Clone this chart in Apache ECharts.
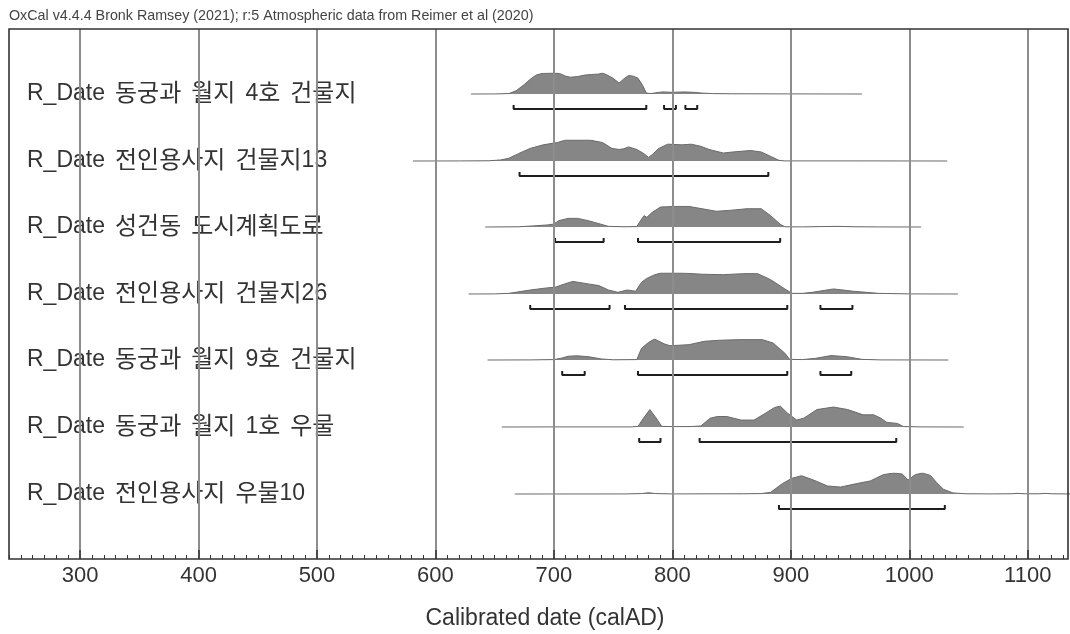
<!DOCTYPE html>
<html>
<head>
<meta charset="utf-8">
<script src="https://cdn.jsdelivr.net/npm/echarts@6/dist/echarts.min.js"></script>
<style>html,body{margin:0;padding:0;background:#fff}#c{width:1070px;height:634px}</style>
</head>
<body>
<div id="c"></div>
<script>
// ---------------- data ----------------
const headerText = 'OxCal v4.4.4 Bronk Ramsey (2021); r:5 Atmospheric data from Reimer et al (2020)';
const axisTitle = 'Calibrated date (calAD)';
const xMin = 200, xMax = 1200, xStep = 100;

const rowLabels = [
  'R_Date 동궁과 월지 4호 건물지',
  'R_Date 전인용사지 건물지13',
  'R_Date 성건동 도시계획도로',
  'R_Date 전인용사지 건물지26',
  'R_Date 동궁과 월지 9호 건물지',
  'R_Date 동궁과 월지 1호 우물',
  'R_Date 전인용사지 우물10'
];

// probability distributions: [calendar year, relative probability]
const dist1 = [[630,0],[650,0.003],[662,0.02],[668,0.15],[675,0.45],[680,0.7],[685,0.9],[690,0.98],[700,1],[705,0.97],[710,0.85],[714,0.8],[720,0.83],[726,0.9],[732,0.93],[738,0.95],[741,1],[745,0.9],[750,0.75],[755,0.52],[759,0.72],[763,0.88],[767,0.85],[771,0.75],[775,0.4],[778,0.05],[782,0.02],[786,0.06],[792,0.1],[800,0.08],[810,0.1],[818,0.08],[826,0.04],[834,0.02],[850,0.01],[900,0.005],[960,0]];
const dist2 = [[581,0],[620,0.003],[645,0.01],[655,0.05],[662,0.13],[670,0.35],[680,0.6],[691,0.77],[703,0.88],[710,1],[730,1],[741,0.88],[749,0.6],[755,0.55],[759,0.58],[763,0.67],[770,0.55],[776,0.35],[780,0.17],[784,0.35],[788,0.58],[796,0.8],[808,0.77],[816,0.8],[824,0.7],[831,0.55],[843,0.38],[851,0.43],[866,0.5],[875,0.43],[883,0.22],[890,0.03],[895,0.005],[960,0.005],[1032,0]];
const dist3 = [[642,0],[670,0.01],[682,0.05],[695,0.1],[700,0.14],[704,0.3],[712,0.41],[720,0.41],[729,0.3],[738,0.16],[746,0.03],[760,0.01],[770,0.02],[772,0.2],[776,0.54],[778.5,0.46],[783,0.7],[790,0.95],[802,0.98],[814,0.98],[825,0.87],[837,0.75],[848,0.79],[863,0.87],[875,0.87],[883,0.54],[891,0.13],[895,0.01],[910,0.005],[925,0.02],[940,0.03],[955,0.01],[975,0.003],[1010,0]];
const dist4 = [[628,0],[650,0.005],[662,0.03],[680,0.19],[694,0.29],[701,0.32],[709,0.48],[716,0.6],[729,0.48],[738,0.4],[746,0.19],[754,0.08],[762,0.19],[769,0.13],[774,0.56],[778,0.73],[784,0.89],[790,1],[808,1],[825,0.94],[843,0.92],[860,0.97],[872,0.97],[883,0.68],[895,0.24],[901,0.03],[910,0.03],[918,0.08],[936,0.24],[953,0.13],[974,0.03],[1000,0.005],[1041,0]];
const dist5 = [[644,0],[680,0.005],[700,0.02],[706,0.08],[712,0.18],[720,0.2],[730,0.15],[740,0.05],[750,0.01],[770,0.02],[774,0.56],[780,0.84],[785,1],[793,0.77],[798,0.68],[814,0.73],[827,0.89],[840,0.94],[856,0.97],[876,0.97],[885,0.81],[895,0.32],[899,0.03],[910,0.02],[921,0.08],[934,0.21],[947,0.16],[960,0.03],[976,0.005],[1033,0]];
const dist6 = [[656,0],[700,0.005],[766,0.005],[771,0.03],[776,0.45],[781,0.83],[786,0.45],[791,0.03],[800,0.02],[815,0.02],[824,0.05],[832,0.42],[838,0.5],[846,0.5],[858,0.33],[869,0.33],[879,0.67],[886,0.92],[891,1],[897,0.67],[905,0.33],[911,0.42],[922,0.83],[936,0.95],[948,0.83],[961,0.58],[970,0.58],[976,0.42],[981,0.22],[990,0.17],[995,0.02],[1010,0.005],[1046,0]];
const dist7 = [[667,0],[760,0.003],[774,0.02],[780,0.06],[786,0.02],[800,0.005],[860,0.01],[875,0.02],[883,0.08],[893,0.5],[901,0.75],[909,0.87],[919,0.67],[931,0.38],[942,0.33],[956,0.5],[967,0.62],[978,0.92],[987,1],[994,0.95],[999,0.67],[1005,0.92],[1011,1],[1018,0.88],[1023,0.55],[1029,0.22],[1037,0.05],[1048,0.01],[1070,0.005],[1086,0.01],[1091,0.03],[1098,0.01],[1110,0.01],[1115,0.03],[1120,0.01],[1140,0]];

// highest posterior density ranges (brackets)
const ranges1 = [[666,778],[793,803],[811,821]];
const ranges2 = [[671,881]];
const ranges3 = [[701,742],[771,891]];
const ranges4 = [[680,747],[760,897],[925,952]];
const ranges5 = [[707,726],[771,897],[925,951]];
const ranges6 = [[772,790],[823,989]];
const ranges7 = [[890,1030]];

const dists = [dist1, dist2, dist3, dist4, dist5, dist6, dist7];
const ranges = [ranges1, ranges2, ranges3, ranges4, ranges5, ranges6, ranges7];

// ---------------- layout / style ----------------
const FONT = '"Liberation Sans", Arial, "Noto Sans CJK KR", sans-serif';
const PLOT_LEFT = -38.4, PLOT_RIGHT = -76.2;   // extended so that 200..1200 maps onto the frame
const FRAME_TOP = 29, FRAME_BOTTOM = 75;
const baseY = [94, 161, 227, 294, 360, 427, 494];
const HALF = 21;
const BR_LOW = -0.714, BR_HIGH = -0.52;

// rich-text label: wider spaces and slightly larger Hangul, like the original font
function richLabel(s) {
  return s.split(/( )/).map(tok => {
    if (tok === ' ') return '{s| }';
    return tok.replace(/([\uAC00-\uD7A3]+)/g, '{k|$1}');
  }).join('');
}

const grid = [
  {left: PLOT_LEFT, right: PLOT_RIGHT, top: FRAME_TOP, bottom: FRAME_BOTTOM, containLabel: false, outerBoundsMode: 'none'},
  {left: 9, right: 2, top: FRAME_TOP, bottom: FRAME_BOTTOM, show: true, borderColor: '#333', borderWidth: 1.6, backgroundColor: 'transparent', z: 6, containLabel: false, outerBoundsMode: 'none'}
];
const xAxis = [
  {
    gridIndex: 0, type: 'value', min: xMin, max: xMax, interval: xStep, z: 5,
    axisLine: {show: false},
    axisTick: {show: true, inside: true, length: 9, lineStyle: {color: '#333', width: 1.5}},
    minorTick: {show: true, splitNumber: 10, length: 4, lineStyle: {color: '#333', width: 1}},
    axisLabel: {fontSize: 22, color: '#333', margin: 6, fontFamily: FONT, formatter: v => String(v)},
    splitLine: {show: true, lineStyle: {color: '#8d8d8d', width: 2}}
  },
  {gridIndex: 1, type: 'value', min: 0, max: 1, show: false}
];
const yAxis = [
  {gridIndex: 0, type: 'value', min: 0, max: 1, show: false},
  {gridIndex: 1, type: 'value', min: 0, max: 1, show: false}
];
const series = [];

rowLabels.forEach((lab, i) => {
  const g = grid.length;
  grid.push({left: PLOT_LEFT, right: PLOT_RIGHT, top: baseY[i] - HALF, height: 2 * HALF, containLabel: false, outerBoundsMode: 'none'});
  const xi = xAxis.length;
  xAxis.push({gridIndex: g, type: 'value', min: xMin, max: xMax, show: false});
  const yi = yAxis.length;
  yAxis.push({gridIndex: g, type: 'value', min: -1, max: 1, show: false});
  yAxis.push({
    gridIndex: g, type: 'category', data: [lab], position: 'left', z: 1,
    axisLine: {show: false}, axisTick: {show: false}, splitLine: {show: false},
    axisLabel: {
      inside: true, margin: 65.4, fontSize: 23, color: '#333', fontFamily: FONT,
      formatter: richLabel,
      rich: {
        s: {width: 10, fontSize: 23, fontFamily: FONT, verticalAlign: 'middle'},
        k: {fontSize: 24, color: '#333', fontFamily: FONT, verticalAlign: 'middle'}
      }
    }
  });
  series.push({
    type: 'line', xAxisIndex: xi, yAxisIndex: yi, data: dists[i],
    symbol: 'none', silent: true,
    lineStyle: {color: '#6a6a6a', width: 1},
    areaStyle: {color: '#868686', opacity: 1}
  });
  ranges[i].forEach(r => {
    series.push({
      type: 'line', xAxisIndex: xi, yAxisIndex: yi, symbol: 'none', silent: true,
      data: [[r[0], BR_HIGH], [r[0], BR_LOW], [r[1], BR_LOW], [r[1], BR_HIGH]],
      lineStyle: {color: '#1e1e1e', width: 2}
    });
  });
});

const chart = echarts.init(document.getElementById('c'), null, {renderer: 'canvas'});
chart.setOption({
  animation: false,
  backgroundColor: '#fff',
  grid, xAxis, yAxis, series,
  graphic: [
    {type: 'text', x: 9, y: 16, style: {text: headerText, fontSize: 14.3, fill: '#444', fontFamily: FONT, textAlign: 'left', textVerticalAlign: 'middle'}},
    {type: 'text', x: 545, y: 619, style: {text: axisTitle, fontSize: 23, fill: '#333', fontFamily: FONT, textAlign: 'center', textVerticalAlign: 'middle'}}
  ]
});
</script>
</body>
</html>
